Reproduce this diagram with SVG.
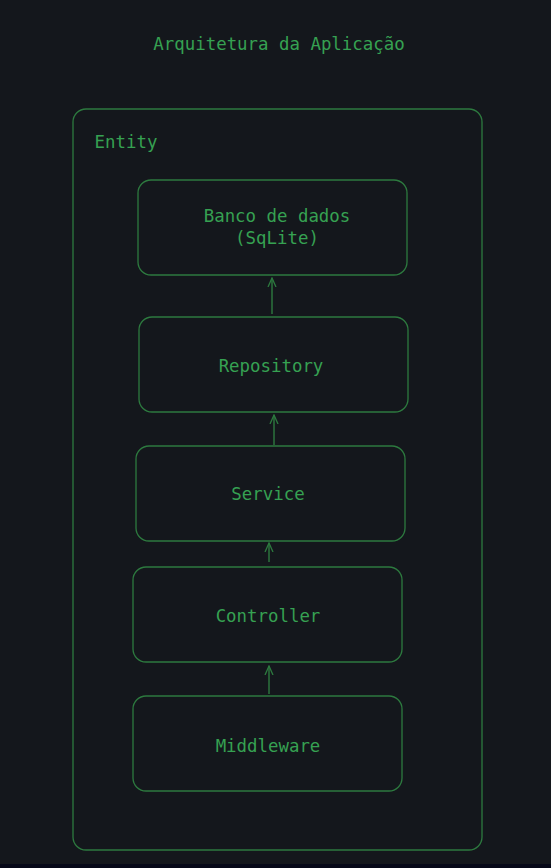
<svg xmlns="http://www.w3.org/2000/svg" width="551" height="868" viewBox="0 0 551 868">
<defs>
<style>
.bg{fill:#14171c}
.box{fill:none;stroke:#2d7a3f;stroke-width:1.3}
.t{font-family:"DejaVu Sans Mono","Liberation Mono",monospace;font-size:17.4px;fill:#36a152;text-anchor:middle}
.conn line{stroke:#2d7a3f;stroke-width:1.4}
</style>
<marker id="ah" viewBox="0 0 10 10" refX="9" refY="5" markerWidth="10" markerHeight="10" markerUnits="userSpaceOnUse" orient="auto">
<path d="M0,1 L9,5 L0,9" fill="none" stroke="#2d7a3f" stroke-width="1.3"/>
</marker>
</defs>
<rect class="bg" x="0" y="0" width="551" height="868"/>
<rect x="0" y="864" width="551" height="4" fill="#060818"/>
<text class="t" x="279" y="50">Arquitetura da Aplicação</text>
<g id="entity">
<rect class="box" x="73" y="109" width="409" height="741" rx="13"/>
<text class="t" x="126" y="148">Entity</text>
</g>
<g id="banco">
<rect class="box" x="138" y="180" width="269" height="95" rx="13"/>
<text class="t" x="277" y="222">Banco de dados</text>
<text class="t" x="277" y="244">(SqLite)</text>
</g>
<g id="repository">
<rect class="box" x="139" y="317" width="269" height="95" rx="13"/>
<text class="t" x="271" y="372">Repository</text>
</g>
<g id="service">
<rect class="box" x="136" y="446" width="269" height="95" rx="13"/>
<text class="t" x="268" y="500">Service</text>
</g>
<g id="controller">
<rect class="box" x="133" y="567" width="269" height="95" rx="13"/>
<text class="t" x="268" y="622">Controller</text>
</g>
<g id="middleware">
<rect class="box" x="133" y="696" width="269" height="95" rx="13"/>
<text class="t" x="268" y="752">Middleware</text>
</g>
<g class="conn">
<line x1="272" y1="314" x2="272" y2="278" marker-end="url(#ah)"/>
<line x1="274" y1="445" x2="274" y2="415" marker-end="url(#ah)"/>
<line x1="269" y1="562" x2="269" y2="543" marker-end="url(#ah)"/>
<line x1="269" y1="694" x2="269" y2="666" marker-end="url(#ah)"/>
</g>
</svg>
